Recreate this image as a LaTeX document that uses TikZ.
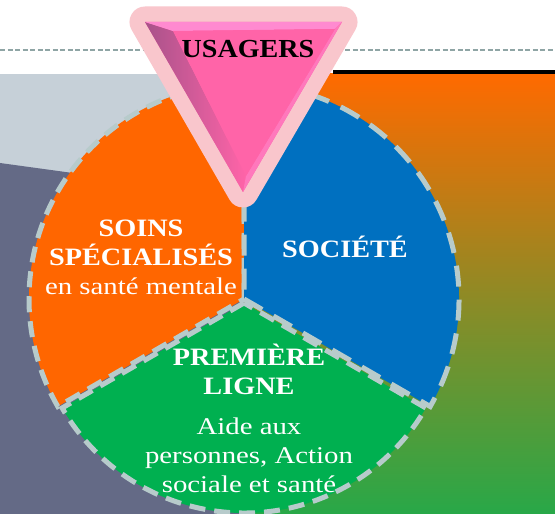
\documentclass[tikz,border=0pt]{standalone}
\usepackage{fontspec}
\setmainfont{Liberation Serif}
\newfontfamily\labfont[FakeStretch=1.13]{Liberation Serif}
\newfontfamily\plainfont[FakeStretch=1.2]{Liberation Serif}
\newfontfamily\topfont[FakeStretch=1.08]{Liberation Serif}

\definecolor{paleslate}{HTML}{C6D0D8}
\definecolor{darkslate}{HTML}{646A86}
\definecolor{bgorange}{HTML}{FF6A00}
\definecolor{bgolive}{HTML}{8F8A25}
\definecolor{bggreen}{HTML}{28A848}
\definecolor{guide}{HTML}{8FA5A5}
\definecolor{secorange}{HTML}{FF6600}
\definecolor{secblue}{HTML}{0070C0}
\definecolor{secgreen}{HTML}{00B050}
\definecolor{rimgrey}{HTML}{B7CBCB}
\definecolor{pinkrim}{HTML}{F9C6CC}
\definecolor{pinkface}{HTML}{FF64A8}
\definecolor{pinkdark}{HTML}{A8528A}
\definecolor{pinklight}{HTML}{FF8AD0}
\definecolor{pinkside}{HTML}{FF78BC}

\newcommand\sechead[1]{{\labfont\bfseries #1}}
\newcommand\secbody[1]{{\plainfont\fontsize{24}{29}\selectfont #1}}

\tikzset{
	rimdash/.style={draw=rimgrey, line width=5pt, dash pattern=on 16pt off 9pt},
	longdash/.style={rimdash, dash pattern=on 21pt off 13pt},
	lab/.style={text=white, align=center, inner sep=0pt, font=\labfont\fontsize{25}{29}\selectfont},
}

\begin{document}
\begin{tikzpicture}[x=1pt, y=1pt]
	\useasboundingbox (0,0) rectangle (555,514);
	\fill[white] (0,0) rectangle (555,514);

	% backdrop
	\fill[paleslate] (0,0) rectangle (244,439.5);
	\fill[darkslate] (0,351) -- (160,329) -- (244,215) -- (244,0) -- (0,0) -- cycle;
	\shade[top color=bgorange, bottom color=bggreen, middle color=bgolive] (244,0) rectangle (555,440);
	\draw[guide, line width=1.8pt, dash pattern=on 5pt off 2.5pt] (0,464) -- (555,464);
	\draw[black, line width=4pt] (333,442) -- (555,442);

	% circle
	\coordinate (o) at (244,215);
	\coordinate (g) at (244,211);
	\filldraw[fill=secorange, rimdash] (o) -- ++(90:215) arc[start angle=90, end angle=210, radius=215] -- cycle;
	\filldraw[fill=secblue, longdash] (o) -- ++(-30:215) arc[start angle=-30, end angle=90, radius=215] -- cycle;
	\filldraw[fill=secgreen, rimdash] (g) -- ++(210:210) arc[start angle=210, end angle=330, radius=210] -- cycle;

	% triangle
	\coordinate (ta) at (145,492);
	\coordinate (tb) at (342,492);
	\coordinate (tc) at (243,322);
	\coordinate (ia) at (173,483);
	\coordinate (ib) at (335,485);
	\coordinate (ic) at (246,338);
	\draw[pinkrim, line width=31pt, line join=round] (ta) -- (tb) -- (tc) -- cycle;
	\fill[pinkface] (ta) -- (tb) -- (tc) -- cycle;
	\shade[left color=pinkdark, right color=pinkface] (ta) -- (ia) -- (ic) -- (tc) -- cycle;
	\fill[pinklight] (ta) -- (tb) -- (ib) -- (ia) -- cycle;
	\fill[pinkside] (tb) -- (tc) -- (ic) -- (ib) -- cycle;
	\fill[pinkface] (ia) -- (ib) -- (ic) -- cycle;

	% labels
	\draw (248,456) node[anchor=base, inner sep=0pt, font=\topfont\bfseries\fontsize{26}{30}\selectfont](usagers){USAGERS};
	\draw (141,257) node[lab](soins){\sechead{SOINS}\\\sechead{SPÉCIALISÉS}\\\secbody{en santé mentale}};
	\draw (345,256) node[lab, anchor=base](societe){\sechead{SOCIÉTÉ}};
	\draw (249,96) node[lab](premiere){\sechead{PREMIÈRE}\\\sechead{LIGNE}\\[11pt]\secbody{Aide aux}\\\secbody{personnes, Action}\\\secbody{sociale et santé}};
\end{tikzpicture}
\end{document}
